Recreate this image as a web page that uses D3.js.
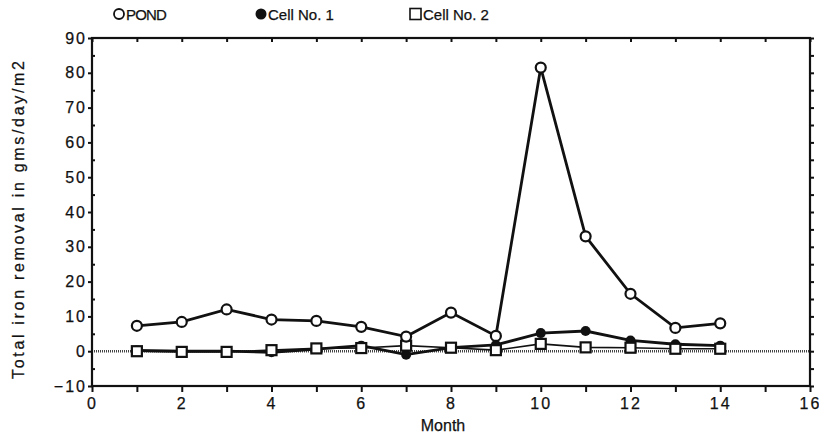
<!DOCTYPE html>
<html><head><meta charset="utf-8">
<script src="https://cdn.jsdelivr.net/npm/d3@7"></script>
<style>
body{margin:0;background:#fff;}
text{font-family:"Liberation Sans",Arial,sans-serif;fill:#111;stroke:#111;stroke-width:0.25px;}
</style></head>
<body><svg id="c" width="819" height="436"></svg>
<script>
const months = [1,2,3,4,5,6,7,8,9,10,11,12,13,14];
const pond  = [7.3, 8.4, 12.0, 9.1, 8.7, 7.0, 4.2, 11.1, 4.4, 81.5, 33.0, 16.5, 6.7, 8.0];
const cell1 = [0.2, 0.0, 0.0, -0.3, 0.6, 1.6, -1.0, 1.0, 1.8, 5.2, 5.8, 3.1, 2.0, 1.6];
const cell2 = [0.0, -0.2, -0.2, 0.3, 0.8, 0.9, 1.6, 1.0, 0.3, 2.1, 1.1, 1.0, 0.7, 0.7];
const xTicks = [0,2,4,6,8,10,12,14,16];
const yTicks = [-10,0,10,20,30,40,50,60,70,80,90];
const seriesNames = ["POND","Cell No. 1","Cell No. 2"];

const svg = d3.select("#c");
const L=92,R=810,T=38,B=386;
const x = d3.scaleLinear().domain([0,16]).range([L,R]);
const y = d3.scaleLinear().domain([-10,90]).range([B,T]);

// zero line (hatched)
svg.append("line").attr("x1",L).attr("x2",R).attr("y1",y(0)).attr("y2",y(0))
  .attr("stroke","#444").attr("stroke-width",2.5).attr("stroke-dasharray","1 1");

// bottom axis
const gB = svg.append("g").attr("transform",`translate(0,${B})`)
  .call(d3.axisBottom(x).tickValues(d3.range(0,17)).tickSize(6).tickFormat(d=>xTicks.includes(d)?d:""));
gB.select(".domain").remove();
gB.selectAll(".tick line").attr("stroke","#111").attr("stroke-width",2);
gB.selectAll(".tick text").attr("font-size",16).attr("dy","0.85em").attr("letter-spacing","2px");

// top axis
const gT = svg.append("g").attr("transform",`translate(0,${T})`)
  .call(d3.axisBottom(x).tickValues(d3.range(0,17)).tickSize(4).tickFormat(""));
gT.select(".domain").remove();
gT.selectAll(".tick line").attr("stroke","#111").attr("stroke-width",2);

// left axis
const gL = svg.append("g").attr("transform",`translate(${L},0)`)
  .call(d3.axisLeft(y).tickValues(yTicks).tickSize(4).tickPadding(1));
gL.select(".domain").remove();
gL.selectAll(".tick line").attr("stroke","#111").attr("stroke-width",2);
gL.selectAll(".tick text").attr("font-size",16).attr("letter-spacing","2px");
const gLm = svg.append("g").attr("transform",`translate(${L},0)`)
  .call(d3.axisRight(y).tickValues(d3.range(-5,90,10)).tickSize(3).tickFormat(""));
gLm.select(".domain").remove();
gLm.selectAll(".tick line").attr("stroke","#111").attr("stroke-width",2);

// right axis
const gR = svg.append("g").attr("transform",`translate(${R},0)`)
  .call(d3.axisRight(y).tickValues(d3.range(-10,91,5)).tickSize(4).tickFormat(""));
gR.select(".domain").remove();
gR.selectAll(".tick line").attr("stroke","#111").attr("stroke-width",2);

// frame
svg.append("rect").attr("x",L).attr("y",T).attr("width",R-L).attr("height",B-T)
  .attr("fill","none").attr("stroke","#111").attr("stroke-width",2.2);

// lines
const line = d3.line().x(d=>x(d[0])).y(d=>y(d[1]));
function zipm(vals){return months.map((m,i)=>[m,vals[i]]);}
svg.append("path").datum(zipm(cell1)).attr("d",line).attr("fill","none").attr("stroke","#111").attr("stroke-width",2.8);
svg.append("path").datum(zipm(cell2)).attr("d",line).attr("fill","none").attr("stroke","#111").attr("stroke-width",1.6);
svg.append("path").datum(zipm(pond)).attr("d",line).attr("fill","none").attr("stroke","#111").attr("stroke-width",2.8);

svg.append("g").selectAll("circle").data(zipm(cell1)).join("circle")
  .attr("cx",d=>x(d[0])).attr("cy",d=>y(d[1])).attr("r",5).attr("fill","#111");
svg.append("g").selectAll("rect").data(zipm(cell2)).join("rect")
  .attr("x",d=>x(d[0])-5).attr("y",d=>y(d[1])-5).attr("width",10).attr("height",10)
  .attr("fill","#fff").attr("stroke","#111").attr("stroke-width",2.2);
svg.append("g").selectAll("circle").data(zipm(pond)).join("circle")
  .attr("cx",d=>x(d[0])).attr("cy",d=>y(d[1])).attr("r",5)
  .attr("fill","#fff").attr("stroke","#111").attr("stroke-width",2.2);

// legend
const leg = svg.append("g");
leg.append("circle").attr("cx",119).attr("cy",14).attr("r",5).attr("fill","#fff").attr("stroke","#111").attr("stroke-width",1.8);
leg.append("text").attr("x",126).attr("y",20).attr("font-size",15).attr("letter-spacing","-0.8px").text(seriesNames[0]);
leg.append("circle").attr("cx",261).attr("cy",14).attr("r",5.5).attr("fill","#111");
leg.append("text").attr("x",268).attr("y",20).attr("font-size",15).text(seriesNames[1]);
leg.append("rect").attr("x",410).attr("y",8.5).attr("width",11).attr("height",11).attr("fill","#fff").attr("stroke","#111").attr("stroke-width",1.6);
leg.append("text").attr("x",423).attr("y",20).attr("font-size",15).text(seriesNames[2]);

// titles
svg.append("text").attr("x",443).attr("y",431).attr("text-anchor","middle").attr("font-size",16).text("Month");
svg.append("text").attr("transform","translate(24,220) rotate(-90)").attr("text-anchor","middle")
  .attr("font-size",16).attr("textLength",318).attr("lengthAdjust","spacing").text("Total iron removal in gms/day/m2");
</script></body></html>
